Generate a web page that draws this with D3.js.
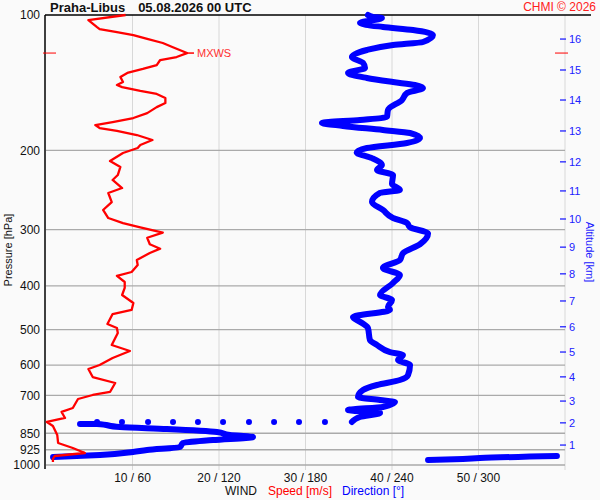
<!DOCTYPE html>
<html>
<head>
<meta charset="utf-8">
<script src="https://cdn.jsdelivr.net/npm/d3@7"></script>
<style>
  body { margin: 0; background: #fafafa; }
  text { font-family: "Liberation Sans", Arial, sans-serif; }
</style>
</head>
<body>
<svg id="chart" width="600" height="500"></svg>
<script>
var pressureTicks = [100, 200, 300, 400, 500, 600, 700, 850, 925, 1000]
var windTicks = [10, 20, 30, 40, 50]
var windTickLabels = ["10 / 60", "20 / 120", "30 / 180", "40 / 240", "50 / 300"]
var altitudeKm = [1, 2, 3, 4, 5, 6, 7, 8, 9, 10, 11, 12, 13, 14, 15, 16]
var altitudeP  = [903, 806, 721, 637, 561, 493, 432, 376, 328, 284, 246, 212, 181, 154.5, 132.5, 113.1]

// wind speed [m/s]
var speedP = [100, 102.6, 106.4, 107.5, 109.1, 110.8, 113.0, 115.4, 117.8, 121.5, 124.0, 125.9, 129.2, 131.8,
  134.5, 137.3, 140.9, 143.1, 144.6, 147.5, 149.8, 152.9, 156.9, 160.2, 165.2, 169.4, 172.9, 175.6, 178.3,
  181.0, 184.8, 189.6, 194.5, 197.5, 202.6, 211.1, 217.6, 226.8, 232.6, 242.4, 248.6, 260.4, 271.2, 282.6,
  290.0, 296.3, 304.4, 312.6, 323.1, 330.6, 338.0, 350.3, 359.4, 372.5, 380.1, 392.0, 404.2, 419.0, 436.6,
  452.4, 461.8, 486.0, 496.1, 509.0, 541.2, 558.0, 578.4, 599.5, 611.9, 637.6, 657.3, 688.2, 698.9, 713.4,
  747.0, 762.3, 786.1, 802.4, 819.0, 857.7, 893.5, 916.6, 940.5, 955.0, 969.7, 984.6]
var speed = [9.2, 4.9, 5.9, 6.2, 8.2, 10.1, 11.7, 13.5, 14.6, 16.3, 15.1, 13.2, 12.8, 11.2,
  9.4, 8.6, 8.9, 8.2, 8.8, 10.9, 12.8, 13.8, 13.8, 12.8, 11.7, 10.1, 7.7, 5.7, 6.2,
  8.2, 10.5, 12.3, 10.9, 10.6, 8.9, 7.4, 8.6, 8.3, 7.7, 8.8, 7.2, 7.6, 6.6, 7.2,
  8.9, 10.9, 13.5, 11.7, 12.0, 13.2, 12.0, 10.5, 10.6, 9.9, 8.2, 9.1, 9.1, 8.8, 10.1,
  9.9, 7.7, 7.1, 8.2, 8.3, 7.6, 9.7, 7.7, 6.2, 4.9, 5.4, 8.0, 7.4, 5.4, 3.7,
  3.1, 1.8, 2.2, 0.1, 0.8, 1.3, 1.4, 3.1, 4.5, 1.0, 0.8, 0.8]

// wind direction [deg]
var dirP = [100, 101.0, 101.5, 104.2, 106.3, 108.0, 110.8, 114.8, 116.6, 119.6, 124.0, 127.8, 131.1, 134.5,
  138.0, 140.9, 143.1, 145.3, 149.0, 154.5, 162.6, 168.5, 171.1, 173.7, 176.4, 180.1, 182.9, 187.7, 192.5,
  197.5, 202.0, 208.0, 215.4, 221.0, 226.8, 237.5, 244.8, 248.6, 260.4, 271.2, 282.6, 290.0, 296.3, 305.8,
  323.1, 338.3, 350.3, 365.0, 378.2, 394.0, 419.0, 429.9, 445.5, 452.4, 468.9, 483.6, 496.1, 527.5, 541.2,
  561.0, 569.6, 584.3, 599.5, 631.0, 647.3, 664.1, 681.3, 706.1, 717.1, 724.5, 743.1, 754.7, 766.2, 782.2,
  802.4,
  810.8, 810.8, 823.4, 831.8, 844.6, 857.7, 866.6, 879.9, 893.5, 912.3, 926.1, 935.6, 950.1, 959.9,
  955.0, 964.8, 969.7, 974.7]
var direction = [223.3, 226.8, 233.0, 217.8, 233.7, 254.6, 268.4, 261.5, 240.7, 222.6, 212.2, 219.9, 221.3, 209.5,
  222.6, 240.7, 255.9, 261.5, 250.4, 246.9, 237.2, 236.5, 217.8, 191.4, 206.0, 233.7, 252.5, 259.4, 250.4,
  222.6, 215.5, 226.1, 233.0, 229.6, 240.7, 240.0, 245.5, 231.7, 226.1, 233.7, 240.7, 250.4, 252.5, 265.0,
  259.4, 247.6, 245.5, 233.7, 245.5, 240.7, 231.7, 240.0, 237.2, 238.6, 212.9, 219.2, 223.3, 224.7, 229.6,
  238.6, 247.6, 244.2, 252.5, 251.1, 245.5, 229.6, 219.9, 216.4, 231.7, 242.1, 233.7, 209.5, 231.7, 217.8,
  212.2,
  23.6, 35.4, 51.3, 83.9, 118.6, 127.6, 143.6, 115.8, 95.0, 92.9, 70.1, 60.3, 37.5, 4.9,
  354.4, 301.0, 289.2, 265.0]

// sparse direction points at the 2 km turn
var turnP = 802.4
var turnDirection = [193.5, 175.5, 158.2, 140.8, 122.8, 105.4, 88.1, 70.8, 52.7, 35.4]

// ---- layout ----
var margin = {top: 15, right: 35, bottom: 35, left: 46}
var width = 600, height = 500
var svg = d3.select("#chart")

var x = d3.scaleLinear().domain([0, 60]).range([margin.left, width - margin.right])
var xDir = d3.scaleLinear().domain([0, 360]).range([margin.left, width - margin.right])
var y = d3.scaleLog().domain([100, 1000]).range([margin.top, height - margin.bottom])
var plotBottom = y(1000) + 4

svg.append("rect").attr("width", width).attr("height", height).attr("fill", "#fafafa")

// vertical grid
svg.append("g").selectAll("line").data(windTicks).enter().append("line")
  .attr("x1", function(d){ return x(d) }).attr("x2", function(d){ return x(d) })
  .attr("y1", margin.top).attr("y2", plotBottom + 1)
  .attr("stroke", "#d8d8d8").attr("stroke-width", 1)
svg.append("line")
  .attr("x1", x(60)).attr("x2", x(60)).attr("y1", margin.top).attr("y2", plotBottom + 1)
  .attr("stroke", "#d8d8d8")

// horizontal grid
svg.append("g").selectAll("line").data(pressureTicks.slice(1)).enter().append("line")
  .attr("x1", margin.left).attr("x2", x(60))
  .attr("y1", function(d){ return y(d) }).attr("y2", function(d){ return y(d) })
  .attr("stroke", "#aaaaaa").attr("stroke-width", 1.3)

// frame: left and top
svg.append("line").attr("x1", margin.left - 1).attr("x2", margin.left - 1)
  .attr("y1", margin.top).attr("y2", plotBottom).attr("stroke", "#000").attr("stroke-width", 1.5)
svg.append("line").attr("x1", margin.left - 1).attr("x2", 591)
  .attr("y1", margin.top).attr("y2", margin.top).attr("stroke", "#000").attr("stroke-width", 1.5)

// pressure labels
svg.append("g").selectAll("text").data(pressureTicks).enter().append("text")
  .attr("x", margin.left - 6).attr("y", function(d){ return y(d) })
  .attr("dy", "0.36em").attr("text-anchor", "end")
  .attr("font-size", 12).attr("fill", "#111")
  .text(function(d){ return d })

// wind tick labels
svg.append("g").selectAll("text").data(windTicks).enter().append("text")
  .attr("x", function(d){ return x(d) }).attr("y", 482)
  .attr("text-anchor", "middle").attr("font-size", 12).attr("fill", "#111")
  .text(function(d, i){ return windTickLabels[i] })

// altitude axis
var alt = svg.append("g")
alt.selectAll("line").data(altitudeP).enter().append("line")
  .attr("x1", x(60) - 5).attr("x2", x(60) + 1)
  .attr("y1", function(d){ return y(d) }).attr("y2", function(d){ return y(d) })
  .attr("stroke", "#2020ff").attr("stroke-width", 1.3)
alt.selectAll("text").data(altitudeP).enter().append("text")
  .attr("x", x(60) + 4).attr("y", function(d){ return y(d) })
  .attr("dy", "0.36em").attr("font-size", 11).attr("fill", "#2020ff")
  .text(function(d, i){ return altitudeKm[i] })

// axis titles
svg.append("text").attr("transform", "translate(12,250) rotate(-90)")
  .attr("text-anchor", "middle").attr("font-size", 11).attr("fill", "#111")
  .text("Pressure [hPa]")
svg.append("text").attr("transform", "translate(586,252) rotate(90)")
  .attr("text-anchor", "middle").attr("font-size", 11).attr("fill", "#2020ff")
  .text("Altitude [km]")

var legend = svg.append("text").attr("x", 225).attr("y", 495).attr("font-size", 12)
legend.append("tspan").attr("fill", "#111").text("WIND")
legend.append("tspan").attr("dx", 11).attr("fill", "#ff0000").text("Speed [m/s]")
legend.append("tspan").attr("dx", 10).attr("fill", "#0000ff").text("Direction [°]")

// title
var title = svg.append("text").attr("x", 50).attr("y", 12).attr("font-size", 13)
  .attr("font-weight", "bold").attr("fill", "#111")
title.append("tspan").text("Praha-Libus")
title.append("tspan").attr("dx", 13).text("05.08.2026 00 UTC")
svg.append("text").attr("x", 596).attr("y", 11).attr("text-anchor", "end")
  .attr("font-size", 12).attr("fill", "#ff2020").text("CHMI © 2026")

// ---- direction trace (split where it wraps) ----
var dirPoints = dirP.map(function(p, i){ return {p: p, d: direction[i]} })
var segments = [[]]
dirPoints.forEach(function(pt, i){
  if (i > 0 && Math.abs(pt.d - dirPoints[i-1].d) > 90) segments.push([])
  segments[segments.length - 1].push(pt)
})
var dirLine = d3.line()
  .x(function(d){ return xDir(d.d) })
  .y(function(d){ return y(d.p) })
  .curve(d3.curveMonotoneY)
svg.append("g").selectAll("path").data(segments).enter().append("path")
  .attr("d", dirLine)
  .attr("fill", "none").attr("stroke", "#0000ff").attr("stroke-width", 6)
  .attr("stroke-linejoin", "round").attr("stroke-linecap", "round")
svg.append("g").selectAll("circle").data(turnDirection).enter().append("circle")
  .attr("cx", function(d){ return xDir(d) }).attr("cy", y(turnP)).attr("r", 3)
  .attr("fill", "#0000ff")

// ---- speed trace ----
var speedLine = d3.line()
  .x(function(d, i){ return x(speed[i]) })
  .y(function(d){ return y(d) })
svg.append("path").datum(speedP).attr("d", speedLine)
  .attr("fill", "none").attr("stroke", "#ff0000").attr("stroke-width", 2.3)
  .attr("stroke-linejoin", "round")

// max wind marker
var iMax = d3.maxIndex(speed)
var pMax = speedP[iMax]
svg.append("line").attr("x1", x(speed[iMax])).attr("x2", x(speed[iMax]) + 7)
  .attr("y1", y(pMax)).attr("y2", y(pMax)).attr("stroke", "#ff0000").attr("stroke-width", 1.5)
svg.append("text").attr("x", x(speed[iMax]) + 10).attr("y", y(pMax)).attr("dy", "0.36em")
  .attr("font-size", 11).attr("fill", "#ff3030").text("MXWS")
svg.append("line").attr("x1", margin.left - 3).attr("x2", margin.left + 10)
  .attr("y1", y(pMax)).attr("y2", y(pMax)).attr("stroke", "#ff0000").attr("stroke-width", 1)
svg.append("line").attr("x1", x(60) - 10).attr("x2", x(60) + 3)
  .attr("y1", y(pMax)).attr("y2", y(pMax)).attr("stroke", "#ff0000").attr("stroke-width", 1)
</script>
</body>
</html>
